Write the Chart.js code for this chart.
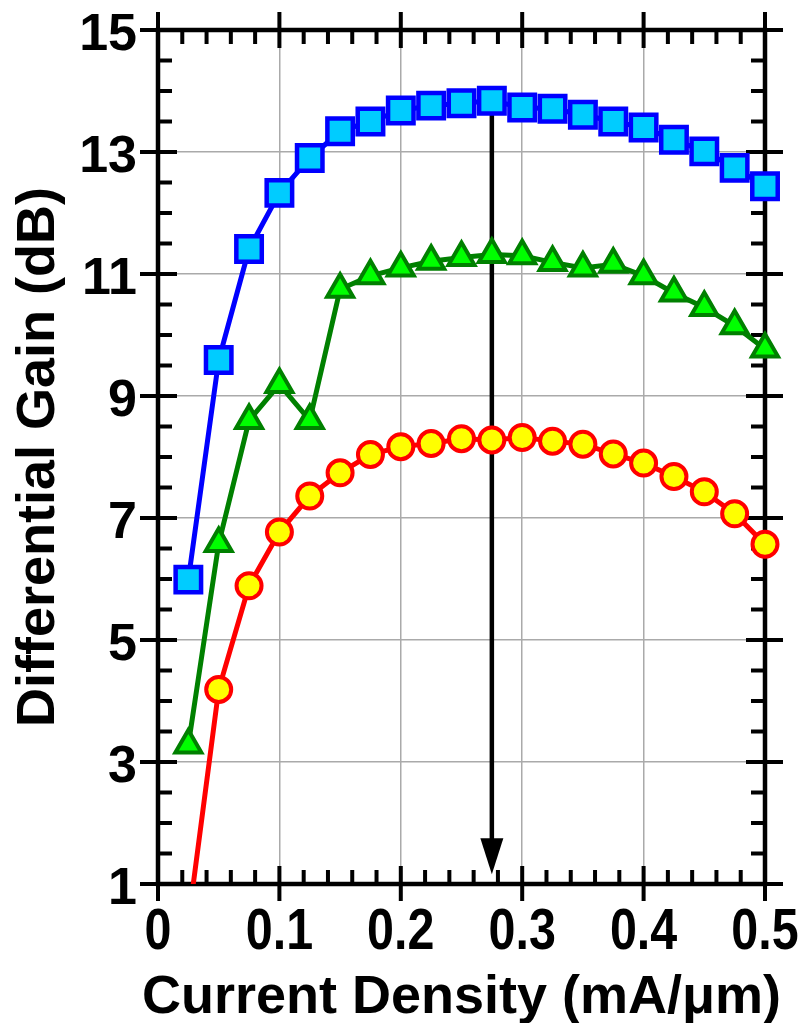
<!DOCTYPE html>
<html>
<head>
<meta charset="utf-8">
<script src="https://cdn.jsdelivr.net/npm/chart.js@4.4.1/dist/chart.umd.min.js"></script>
<style>
  html, body { margin: 0; padding: 0; background: #ffffff; }
  #wrap { width: 808px; height: 1023px; }
</style>
</head>
<body>
<div id="wrap"><canvas id="c" width="808" height="1023"></canvas></div>
<script>
// ---- Data ----
const currentDensity = [0.025, 0.05, 0.075, 0.1, 0.125, 0.15, 0.175, 0.2, 0.225, 0.25,
                        0.275, 0.3, 0.325, 0.35, 0.375, 0.4, 0.425, 0.45, 0.475, 0.5];
const gainBlue  = [5.99, 9.59, 11.41, 12.33, 12.90, 13.34, 13.50, 13.68, 13.76, 13.80,
                   13.84, 13.73, 13.71, 13.61, 13.50, 13.40, 13.20, 13.01, 12.74, 12.44];
const gainGreen = [3.28, 6.58, 8.60, 9.19, 8.60, 10.75, 10.97, 11.10, 11.21, 11.27,
                   11.32, 11.30, 11.19, 11.10, 11.16, 10.97, 10.69, 10.45, 10.15, 9.77];
const gainRed   = [0.38, 4.19, 5.89, 6.77, 7.36, 7.74, 8.04, 8.17, 8.22, 8.30,
                   8.28, 8.32, 8.26, 8.21, 8.05, 7.90, 7.68, 7.43, 7.07, 6.57];
const xTickValues = [0, 0.1, 0.2, 0.3, 0.4, 0.5];
const xTickLabels = ['0', '0.1', '0.2', '0.3', '0.4', '0.5'];
const yTickValues = [1, 3, 5, 7, 9, 11, 13, 15];
const yTickLabels = ['1', '3', '5', '7', '9', '11', '13', '15'];
const arrowX = 0.275;      // current density of peak gain
const arrowFrom = 13.84;   // starts at blue peak
const arrowTo = 1.16;      // arrow tip

const xTitle = 'Current Density (mA/\u03bcm)';
const yTitle = 'Differential Gain (dB)';

function pts(ys) { return currentDensity.map((x, i) => ({ x: x, y: ys[i] })); }

const FONT = "'Liberation Sans', Arial, Helvetica, sans-serif";

const framePlugin = {
  id: 'frame',
  beforeDatasetsDraw(chart) {
    const { ctx, chartArea: a, scales: { x, y } } = chart;
    ctx.save();
    ctx.strokeStyle = '#000';
    ctx.fillStyle = '#000';
    ctx.lineCap = 'butt';
    ctx.lineWidth = 4;
    // x ticks: minor every 0.02, major every 0.1
    for (let i = 0; i <= 25; i++) {
      const px = x.getPixelForValue(i * 0.02);
      ctx.beginPath();
      if (i % 5 === 0) {
        ctx.moveTo(px, a.bottom + 17); ctx.lineTo(px, a.bottom - 18);
        ctx.moveTo(px, a.top - 18); ctx.lineTo(px, a.top + 18);
      } else {
        ctx.moveTo(px, a.bottom); ctx.lineTo(px, a.bottom - 14);
        ctx.moveTo(px, a.top); ctx.lineTo(px, a.top + 14);
      }
      ctx.stroke();
    }
    // y ticks: minor every 0.5, major every 2
    for (let i = 0; i <= 28; i++) {
      const py = y.getPixelForValue(1 + i * 0.5);
      ctx.beginPath();
      if (i % 4 === 0) {
        ctx.moveTo(a.left - 18, py); ctx.lineTo(a.left + 19, py);
        ctx.moveTo(a.right + 18, py); ctx.lineTo(a.right - 19, py);
      } else {
        ctx.moveTo(a.left, py); ctx.lineTo(a.left + 14, py);
        ctx.moveTo(a.right, py); ctx.lineTo(a.right - 14, py);
      }
      ctx.stroke();
    }
    // box
    ctx.lineWidth = 4.5;
    ctx.strokeRect(a.left, a.top, a.right - a.left, a.bottom - a.top);
    // arrow
    const ax = x.getPixelForValue(arrowX);
    const y0 = y.getPixelForValue(arrowFrom);
    const y1 = y.getPixelForValue(arrowTo);
    const headLen = 36, headHalf = 11.5;
    ctx.lineWidth = 4.5;
    ctx.beginPath();
    ctx.moveTo(ax, y0);
    ctx.lineTo(ax, y1 - headLen + 2);
    ctx.stroke();
    ctx.beginPath();
    ctx.moveTo(ax - headHalf, y1 - headLen);
    ctx.lineTo(ax + headHalf, y1 - headLen);
    ctx.lineTo(ax, y1);
    ctx.closePath();
    ctx.fill();

    // y tick labels
    ctx.font = "bold 52px " + FONT;
    ctx.textAlign = 'right';
    ctx.textBaseline = 'alphabetic';
    yTickValues.forEach((v, i) => {
      ctx.fillText(yTickLabels[i], a.left - 21, y.getPixelForValue(v) + 19.5);
    });
    // x tick labels (condensed bold)
    ctx.font = "bold 57px " + FONT;
    ctx.textAlign = 'center';
    xTickValues.forEach((v, i) => {
      const px = x.getPixelForValue(v);
      ctx.save();
      ctx.translate(px, a.bottom + 65);
      ctx.scale(0.85, 1);
      ctx.fillText(xTickLabels[i], 0, 0);
      ctx.restore();
    });
    // x title
    ctx.font = "bold 54px " + FONT;
    ctx.textAlign = 'center';
    ctx.fillText(xTitle, (a.left + a.right) / 2, a.bottom + 129);
    ctx.restore();
  }
};

new Chart(document.getElementById('c'), {
  type: 'line',
  data: {
    datasets: [
      {
        data: pts(gainBlue),
        borderColor: '#0000ff', borderWidth: 5,
        pointStyle: 'rect', pointRadius: 18,
        pointBackgroundColor: '#00ccff', pointBorderColor: '#0000ff', pointBorderWidth: 4.5,
        tension: 0, clip: false
      },
      {
        data: pts(gainGreen),
        borderColor: '#008000', borderWidth: 5,
        pointStyle: 'triangle', pointRadius: 15,
        pointBackgroundColor: '#00ff00', pointBorderColor: '#008000', pointBorderWidth: 4,
        tension: 0, clip: false
      },
      {
        data: pts(gainRed),
        borderColor: '#ff0000', borderWidth: 5,
        pointStyle: 'circle', pointRadius: 12.5,
        pointBackgroundColor: '#ffff00', pointBorderColor: '#ff0000', pointBorderWidth: 4,
        tension: 0, clip: { left: false, top: false, right: false, bottom: 0 }
      }
    ]
  },
  options: {
    responsive: false,
    maintainAspectRatio: false,
    animation: false,
    devicePixelRatio: 1,
    layout: { autoPadding: false, padding: { left: 0, top: 30, right: 43, bottom: 0 } },
    plugins: { legend: { display: false }, tooltip: { enabled: false } },
    scales: {
      x: {
        type: 'linear', min: 0, max: 0.5,
        afterFit(s) { s.height = 139; },
        border: { display: false },
        grid: { color: '#aaaaaa', lineWidth: 1.5, drawTicks: false },
        ticks: { stepSize: 0.1, autoSkip: false, maxRotation: 0, display: false },
        title: { display: false }
      },
      y: {
        type: 'linear', min: 1, max: 15,
        afterFit(s) { s.width = 158; },
        border: { display: false },
        grid: { color: '#aaaaaa', lineWidth: 1.5, drawTicks: false },
        ticks: { stepSize: 2, autoSkip: false, display: false },
        title: {
          display: true, text: yTitle, color: '#000',
          font: { family: FONT, size: 54, weight: 'bold', lineHeight: 1 },
          padding: { top: 12, bottom: 0 }
        }
      }
    }
  },
  plugins: [framePlugin]
});
</script>
</body>
</html>
